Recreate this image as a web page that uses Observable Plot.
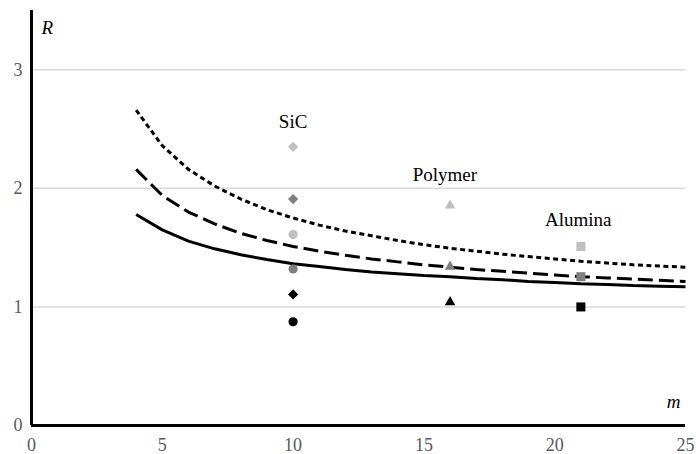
<!DOCTYPE html>
<html>
<head>
<meta charset="utf-8">
<script src="https://cdn.jsdelivr.net/npm/d3@7"></script>
<script src="https://cdn.jsdelivr.net/npm/@observablehq/plot@0.6"></script>
<style>
  html, body { margin: 0; padding: 0; background: #fff; }
  #chart svg { display: block; }
</style>
</head>
<body>
<div id="chart"></div>
<script>
// ---- data ----
const xTicks = [0, 5, 10, 15, 20, 25];
const yTicks = [0, 1, 2, 3];
const gridValues = [1, 2, 3];

const curveM = [4, 5, 6, 7, 8, 9, 10, 11, 12, 13, 14, 15, 16, 17, 18, 19, 20, 21, 22, 23, 24, 25];
const curveSolid  = [1.78, 1.65, 1.555, 1.49, 1.44, 1.40, 1.365, 1.34, 1.315, 1.295, 1.28, 1.265, 1.255, 1.24, 1.23, 1.215, 1.205, 1.195, 1.19, 1.18, 1.175, 1.17];
const curveDashed = [2.16, 1.94, 1.80, 1.70, 1.62, 1.56, 1.51, 1.47, 1.435, 1.405, 1.38, 1.355, 1.335, 1.315, 1.30, 1.285, 1.27, 1.255, 1.245, 1.235, 1.225, 1.215];
const curveDotted = [2.66, 2.36, 2.16, 2.02, 1.91, 1.82, 1.75, 1.69, 1.64, 1.60, 1.56, 1.525, 1.495, 1.47, 1.445, 1.425, 1.405, 1.385, 1.37, 1.355, 1.345, 1.335];

const pointMaterial = ["SiC","SiC","SiC","SiC","SiC","SiC","Polymer","Polymer","Polymer","Alumina","Alumina","Alumina"];
const pointM        = [10, 10, 10, 10, 10, 10, 16, 16, 16, 21, 21, 21];
const pointR        = [2.35, 1.91, 1.61, 1.32, 1.105, 0.875, 1.855, 1.34, 1.04, 1.51, 1.255, 1.0];
const pointShade    = ["light","mid","light","mid","black","black","light","mid","black","light","mid","black"];
const pointShape    = ["diamond2","diamond2","circle","circle","diamond2","circle","triangle","triangle","triangle","square","square","square"];

const labelNames = ["SiC", "Polymer", "Alumina"];
const labelM     = [10, 15.8, 20.9];
const labelR     = [2.56, 2.11, 1.73];

// ---- build tables ----
const curves = [];
curveM.forEach((m, i) => {
  curves.push({m, R: curveSolid[i], s: "solid"});
  curves.push({m, R: curveDashed[i], s: "dashed"});
  curves.push({m, R: curveDotted[i], s: "dotted"});
});
const points = pointM.map((m, i) => ({
  material: pointMaterial[i], m, R: pointR[i], shade: pointShade[i], shape: pointShape[i]
}));
const labels = labelNames.map((name, i) => ({name, m: labelM[i], R: labelR[i]}));

const shadeColor = {light: "#bfbfbf", mid: "#7f7f7f", black: "#000000"};
const shapeRadius = {diamond2: 4.6, circle: 4.6, triangle: 3.9, square: 5.1};
const dash = {solid: null, dashed: "15,6", dotted: "5,3.5"};
const serif = "Liberation Serif, DejaVu Serif, serif";

const dotMarks = Object.keys(shapeRadius).map(shape =>
  Plot.dot(points.filter(d => d.shape === shape), {
    x: "m", y: "R", symbol: shape, r: shapeRadius[shape],
    fill: d => shadeColor[d.shade], stroke: "none"
  })
);

const lineMarks = ["solid", "dashed", "dotted"].map(s =>
  Plot.line(curves.filter(d => d.s === s), {
    x: "m", y: "R", stroke: "#000", strokeWidth: 3,
    strokeDasharray: dash[s], strokeLinecap: "butt", strokeLinejoin: "miter", curve: "linear"
  })
);

const chart = Plot.plot({
  width: 696,
  height: 454,
  marginLeft: 31,
  marginRight: 11,
  marginTop: 10,
  marginBottom: 29,
  style: {fontSize: "18px", fontFamily: serif, background: "#fff"},
  x: {domain: [0, 25]},
  y: {domain: [0, 3.5]},
  marks: [
    Plot.ruleY(gridValues, {x1: 0, x2: 25, stroke: "#d9d9d9", strokeWidth: 1.5}),
    Plot.axisX({ticks: xTicks, tickSize: 0, tickPadding: 13, tickFormat: d3.format("d"), label: null, color: "#595959", fontSize: 18, fontFamily: serif}),
    Plot.axisY({ticks: yTicks, tickSize: 0, tickPadding: 9, tickFormat: d3.format("d"), label: null, color: "#595959", fontSize: 18, fontFamily: serif}),
    ...lineMarks,
    ...dotMarks,
    Plot.ruleX([0], {stroke: "#000", strokeWidth: 3}),
    Plot.ruleY([0], {x1: 0, x2: 25, stroke: "#000", strokeWidth: 3}),
    Plot.text(labels, {x: "m", y: "R", text: "name", fontSize: 19, fontFamily: serif, fill: "#000"}),
    Plot.text(["R"], {frameAnchor: "top-left", text: d => d, dx: 10, dy: 10, textAnchor: "start", fontStyle: "italic", fontSize: 19, fontFamily: serif, fill: "#000"}),
    Plot.text(["m"], {frameAnchor: "bottom-right", text: d => d, dx: -5, dy: -18, textAnchor: "end", fontStyle: "italic", fontSize: 19, fontFamily: serif, fill: "#000"})
  ]
});
document.getElementById("chart").appendChild(chart);
</script>
</body>
</html>
